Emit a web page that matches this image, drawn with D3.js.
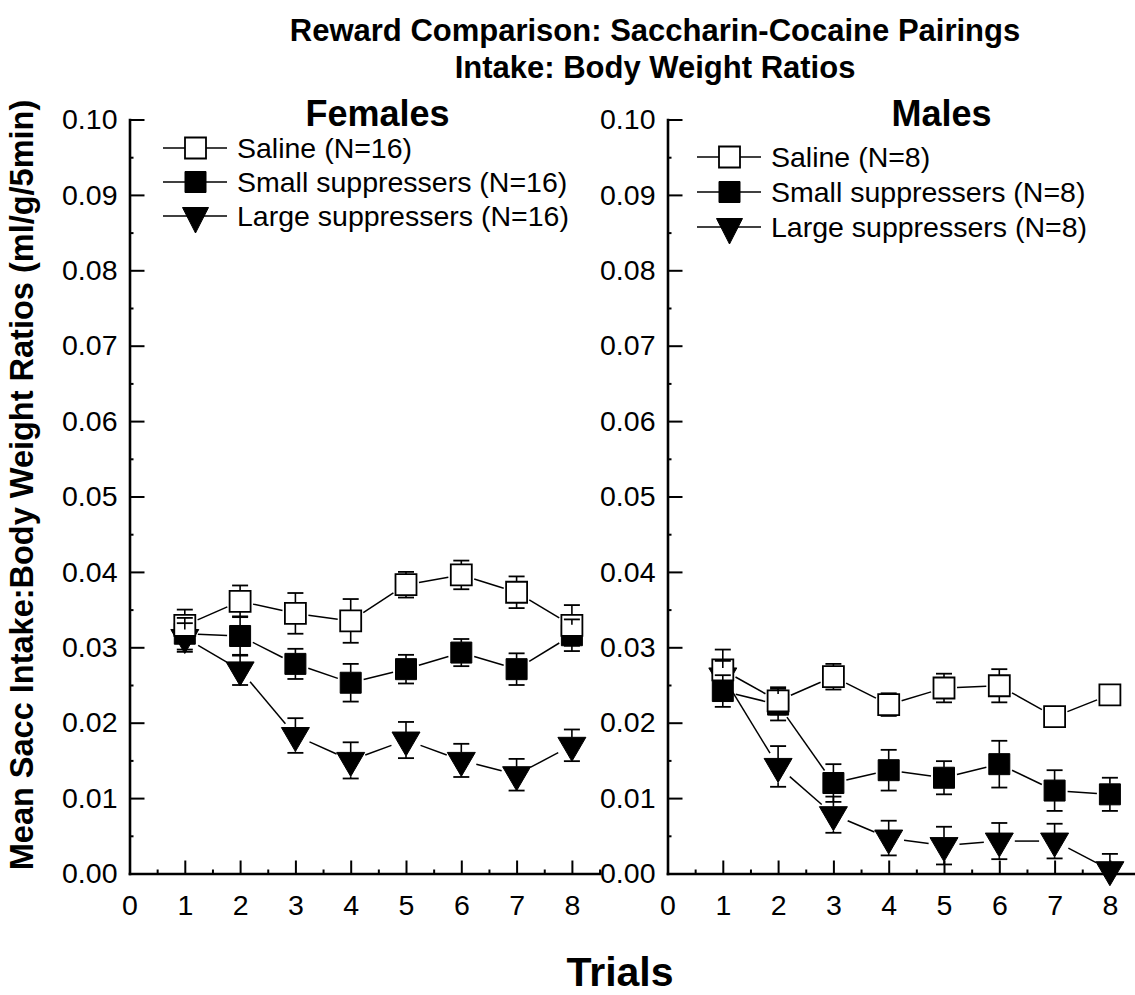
<!DOCTYPE html>
<html>
<head>
<meta charset="utf-8">
<script src="https://cdn.jsdelivr.net/npm/d3@7"></script>
<style>
  body { margin: 0; background: #fff; }
  svg { display: block; }
  text { font-family: "Liberation Sans", Arial, Helvetica, sans-serif; fill: #000; }
</style>
</head>
<body>
<svg id="chart" width="1135" height="995"></svg>
<script>
// ---- data ----
const trials = [1, 2, 3, 4, 5, 6, 7, 8];
const xTickLabels = ["0", "1", "2", "3", "4", "5", "6", "7", "8"];
const yTickLabels = ["0.00", "0.01", "0.02", "0.03", "0.04", "0.05", "0.06", "0.07", "0.08", "0.09", "0.10"];
const groupNames = ["Saline", "Small suppressers", "Large suppressers"];
const femaleN = [16, 16, 16];
const maleN = [8, 8, 8];

const femaleSaline    = [0.0329, 0.0361, 0.0345, 0.0335, 0.0383, 0.0396, 0.0373, 0.0329];
const femaleSalineErr = [0.0021, 0.0021, 0.0027, 0.0029, 0.0017, 0.0019, 0.0021, 0.0027];
const femaleSmall     = [0.0318, 0.0315, 0.0278, 0.0253, 0.0271, 0.0293, 0.0271, 0.0316];
const femaleSmallErr  = [0.0021, 0.0026, 0.0020, 0.0025, 0.0019, 0.0018, 0.0021, 0.0021];
const femaleLarge     = [0.0313, 0.0270, 0.0183, 0.0150, 0.0177, 0.0150, 0.0131, 0.0170];
const femaleLargeErr  = [0.0019, 0.0020, 0.0023, 0.0024, 0.0024, 0.0022, 0.0021, 0.0021];

const maleSaline      = [0.0270, 0.0229, 0.0261, 0.0224, 0.0246, 0.0249, 0.0208, 0.0237];
const maleSalineErr   = [0.0027, 0.0018, 0.0017, 0.0015, 0.0019, 0.0022, 0.0012, 0.0012];
const maleSmall       = [0.0242, 0.0224, 0.0120, 0.0137, 0.0127, 0.0145, 0.0110, 0.0105];
const maleSmallErr    = [0.0021, 0.0021, 0.0025, 0.0027, 0.0022, 0.0031, 0.0027, 0.0022];
const maleLarge       = [0.0262, 0.0142, 0.0078, 0.0047, 0.0037, 0.0043, 0.0043, 0.0005];
const maleLargeErr    = [0.0020, 0.0027, 0.0024, 0.0023, 0.0025, 0.0024, 0.0023, 0.0021];

// ---- layout ----
const svg = d3.select("#chart");
const yTop = 119.5, yBottom = 873.5;
const unitX = 55.3;
const SQ = 10.5;            // half side of square markers
const TRI_W = 14, TRI_UP = 8, TRI_DOWN = 16;  // down-triangle around its centroid

const panels = [
  { title: "Females", x0: 129.5, titleX: 377.5, legendX: 163, legendRows: [148, 182, 216], n: femaleN,
    series: [
      { name: groupNames[0], symbol: "open",   values: femaleSaline, err: femaleSalineErr },
      { name: groupNames[1], symbol: "filled", values: femaleSmall,  err: femaleSmallErr },
      { name: groupNames[2], symbol: "tri",    values: femaleLarge,  err: femaleLargeErr }
    ] },
  { title: "Males", x0: 667.5, titleX: 941.5, legendX: 697, legendRows: [157, 192, 227], n: maleN,
    series: [
      { name: groupNames[0], symbol: "open",   values: maleSaline, err: maleSalineErr },
      { name: groupNames[1], symbol: "filled", values: maleSmall,  err: maleSmallErr },
      { name: groupNames[2], symbol: "tri",    values: maleLarge,  err: maleLargeErr }
    ] }
];

// ---- titles ----
svg.append("text").attr("x", 655).attr("y", 41).attr("text-anchor", "middle")
  .style("font-size", "31px").style("font-weight", "bold")
  .text("Reward Comparison: Saccharin-Cocaine Pairings");
svg.append("text").attr("x", 655).attr("y", 78).attr("text-anchor", "middle")
  .style("font-size", "31px").style("font-weight", "bold")
  .text("Intake: Body Weight Ratios");
svg.append("text")
  .attr("transform", "translate(22,485) rotate(-90)")
  .attr("text-anchor", "middle").attr("dominant-baseline", "central")
  .style("font-size", "32.5px").style("font-weight", "bold")
  .text("Mean Sacc Intake:Body Weight Ratios (ml/g/5min)");
svg.append("text").attr("x", 620).attr("y", 986).attr("text-anchor", "middle")
  .style("font-size", "41px").style("font-weight", "bold")
  .text("Trials");

function symbolPath(type, cx, cy, big) {
  if (type === "tri") {
    const w = big ? TRI_W : 13, up = big ? TRI_UP : 8.5, dn = big ? TRI_DOWN : 17;
    return `M${cx - w},${cy - up}L${cx + w},${cy - up}L${cx},${cy + dn}Z`;
  }
  return `M${cx - SQ},${cy - SQ}h${2 * SQ}v${2 * SQ}h${-2 * SQ}Z`;
}
function drawSymbol(g, type, cx, cy, big) {
  g.append("path").attr("d", symbolPath(type, cx, cy, big))
    .attr("fill", type === "open" ? "#fff" : "#000")
    .attr("stroke", "#000").attr("stroke-width", type === "open" ? 1.8 : 1);
}
// distance from a marker centre to its edge along direction (dx,dy)
function exitDist(type, dx, dy) {
  const len = Math.hypot(dx, dy);
  if (type === "tri") return 13;
  const t = Math.min(SQ / Math.abs(dx || 1e-9), SQ / Math.abs(dy || 1e-9));
  return t * len;
}

panels.forEach(p => {
  const x = d3.scaleLinear().domain([0, 8.5]).range([p.x0, p.x0 + 8.5 * unitX]);
  const y = d3.scaleLinear().domain([0, 0.1]).range([yBottom, yTop]);
  const g = svg.append("g");

  // axes: major ticks point inward, small minor ticks between
  const yMajor = yTickLabels.map(Number);
  const yMinor = yMajor.slice(0, -1).map(v => v + 0.005);
  const xMajor = xTickLabels.map(Number);
  const xMinor = xMajor.map(v => v + 0.5);

  const yAxis = g.append("g").attr("transform", `translate(${p.x0},0)`)
    .call(d3.axisLeft(y).tickValues(yMajor).tickFormat((d, i) => yTickLabels[i])
      .tickSize(-15).tickSizeOuter(0).tickPadding(12));
  const yAxisMinor = g.append("g").attr("transform", `translate(${p.x0},0)`)
    .call(d3.axisLeft(y).tickValues(yMinor).tickFormat("").tickSize(-4).tickSizeOuter(0));
  const xAxis = g.append("g").attr("transform", `translate(0,${yBottom})`)
    .call(d3.axisBottom(x).tickValues(xMajor).tickFormat((d, i) => xTickLabels[i])
      .tickSize(-13).tickSizeOuter(0).tickPadding(21));
  const xAxisMinor = g.append("g").attr("transform", `translate(0,${yBottom})`)
    .call(d3.axisBottom(x).tickValues(xMinor).tickFormat("").tickSize(-4).tickSizeOuter(0));

  [yAxis, xAxis, yAxisMinor, xAxisMinor].forEach(a => {
    a.select(".domain").attr("stroke", "#000").attr("stroke-width", 2.6).attr("stroke-linecap", "square");
    a.selectAll(".tick line").attr("stroke", "#000").attr("stroke-width", 2);
    a.selectAll(".tick text").style("font-size", "28.5px").attr("fill", "#000")
      .style("font-family", '"Liberation Sans", Arial, sans-serif');
  });
  yAxisMinor.select(".domain").remove();
  xAxisMinor.select(".domain").remove();

  // panel heading
  svg.append("text").attr("x", p.titleX).attr("y", 126).attr("text-anchor", "middle")
    .style("font-size", "36px").style("font-weight", "bold").text(p.title);

  // draw in back-to-front order: large, small, saline
  const order = [2, 1, 0];
  order.forEach(si => {
    const s = p.series[si];
    const pts = trials.map((t, i) => [x(t), y(s.values[i])]);
    // connecting segments with a small gap at each symbol
    for (let i = 0; i < pts.length - 1; i++) {
      const [x1, y1] = pts[i], [x2, y2] = pts[i + 1];
      const dx = x2 - x1, dy = y2 - y1, len = Math.hypot(dx, dy);
      const d1 = exitDist(s.symbol, dx, dy) + 2.5, d2 = d1;
      if (d1 + d2 >= len) continue;
      g.append("line")
        .attr("x1", x1 + dx * d1 / len).attr("y1", y1 + dy * d1 / len)
        .attr("x2", x2 - dx * d2 / len).attr("y2", y2 - dy * d2 / len)
        .attr("stroke", "#000").attr("stroke-width", 1.5);
    }
    pts.forEach(([cx, cy]) => drawSymbol(g, s.symbol, cx, cy, true));
  });

  // error bars on top, drawn outward from each symbol edge (clipped at zero)
  order.forEach(si => {
    const s = p.series[si];
    trials.forEach((t, i) => {
      const cx = x(t), cy = y(s.values[i]);
      const lowVal = s.values[i] - s.err[i];
      const hi = y(s.values[i] + s.err[i]), lo = y(Math.max(0, lowVal));
      const upEdge = s.symbol === "tri" ? cy - TRI_UP : cy - SQ;
      const dnEdge = s.symbol === "tri" ? cy + TRI_DOWN : cy + SQ;
      const showCapUp = s.symbol === "tri" || hi < upEdge + 0.5;
      const showCapDn = lowVal >= 0 && (s.symbol === "tri" || lo > dnEdge - 0.5);
      if (hi < upEdge) g.append("line").attr("x1", cx).attr("x2", cx).attr("y1", upEdge).attr("y2", hi)
        .attr("stroke", "#000").attr("stroke-width", 1.6);
      if (lo > dnEdge) g.append("line").attr("x1", cx).attr("x2", cx).attr("y1", dnEdge).attr("y2", lo)
        .attr("stroke", "#000").attr("stroke-width", 1.6);
      if (showCapUp) g.append("line").attr("x1", cx - 8).attr("x2", cx + 8).attr("y1", hi).attr("y2", hi)
        .attr("stroke", "#000").attr("stroke-width", 1.8);
      if (showCapDn) g.append("line").attr("x1", cx - 8).attr("x2", cx + 8).attr("y1", lo).attr("y2", lo)
        .attr("stroke", "#000").attr("stroke-width", 1.8);
    });
  });

  // legend
  p.series.forEach((s, i) => {
    const ry = p.legendRows[i];
    const lg = svg.append("g");
    lg.append("line").attr("x1", p.legendX).attr("x2", p.legendX + 64).attr("y1", ry).attr("y2", ry)
      .attr("stroke", "#000").attr("stroke-width", 1.5);
    drawSymbol(lg, s.symbol, p.legendX + 32.5, ry, false);
    lg.append("text").attr("x", p.legendX + 74).attr("y", ry + 10)
      .style("font-size", "28.5px").text(`${s.name} (N=${p.n[i]})`);
  });
});
</script>
</body>
</html>
